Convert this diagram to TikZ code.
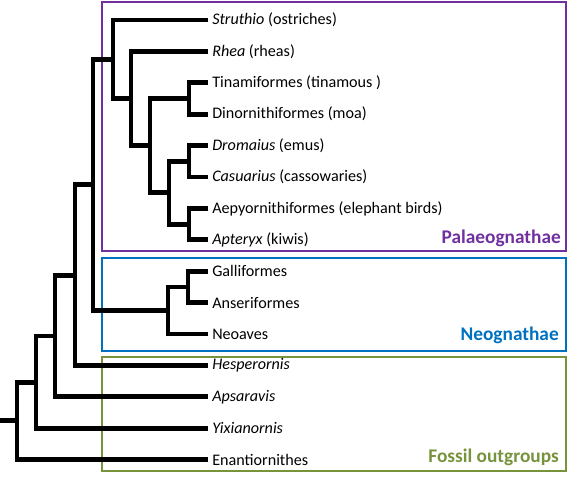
\documentclass[tikz,border=0pt]{standalone}
\usepackage{fontspec}
\setmainfont{Carlito}
\definecolor{palcol}{HTML}{7030A0}
\definecolor{neocol}{HTML}{0070C0}
\definecolor{fosscol}{HTML}{77933C}
\tikzset{x = 0.75pt, y = -0.75pt}
\tikzset{branch/.style = {line width = 3.6pt},
         leaf/.style   = {anchor = west, inner xsep = 3pt, inner ysep = 0pt,
                          font = \fontsize{12.1}{14}\selectfont},
         groupbox/.style = {line width = 1.5pt},
         grouplabel/.style = {anchor = east, inner sep = 0pt,
                              font = \fontsize{14.5}{17}\selectfont\bfseries}}

\begin{document}
\begin{tikzpicture}
  \useasboundingbox (0,0) rectangle (567,476);
  % boxes
  \draw[groupbox, palcol]  (102,2)   rectangle (565.5,251);
  \draw[groupbox, neocol]  (102,257.5) rectangle (565.5,350.5);
  \draw[groupbox, fosscol] (102,356.5) rectangle (565.5,470.5);
  \node[grouplabel, text = palcol]  (palaeo label) at (561,238) {Palaeognathae};
  \node[grouplabel, text = neocol]  (neo label)    at (559,335) {Neognathae};
  \node[grouplabel, text = fosscol] (fossil label) at (559,457) {Fossil outgroups};
  % leaves
  \node[leaf] (struthio) at (208,20)    {\textit{Struthio} (ostriches)};
  \node[leaf] (rhea)     at (208,51.4)  {\textit{Rhea} (rheas)};
  \node[leaf] (tina)     at (208,82.8)  {Tinamiformes (tinamous )};
  \node[leaf] (dino)     at (208,114.2) {Dinornithiformes (moa)};
  \node[leaf] (dromaius) at (208,145.6) {\textit{Dromaius} (emus)};
  \node[leaf] (casuar)   at (208,177)   {\textit{Casuarius} (cassowaries)};
  \node[leaf] (aepyorn)  at (208,208.4) {Aepyornithiformes (elephant birds)};
  \node[leaf] (apteryx)  at (208,239.8) {\textit{Apteryx} (kiwis)};
  \node[leaf] (galli)    at (208,271.2) {Galliformes};
  \node[leaf] (anser)    at (208,302.6) {Anseriformes};
  \node[leaf] (neoaves)  at (208,334)   {Neoaves};
  \node[leaf] (hesper)   at (208,365.4) {\textit{Hesperornis}};
  \node[leaf] (apsar)    at (208,396.8) {\textit{Apsaravis}};
  \node[leaf] (yixian)   at (208,428.2) {\textit{Yixianornis}};
  \node[leaf] (enantio)  at (208,459.6) {Enantiornithes};
  % internal nodes
  \coordinate (tinadino)   at (189,98.5);
  \coordinate (dromcas)    at (189,161.3);
  \coordinate (aepapt)     at (189,224.1);
  \coordinate (austral)    at (169,192.7);
  \coordinate (notopal)    at (150,145.6);
  \coordinate (rheaclade)  at (131,98.5);
  \coordinate (palaeo)     at (113,59.25);
  \coordinate (galloans)   at (188,286.9);
  \coordinate (neog)       at (168,310.45);
  \coordinate (neornith)   at (93,184.85);
  \coordinate (ornithur)   at (75,275.1);
  \coordinate (ornithuro)  at (55,336);
  \coordinate (ornithotho) at (36,382.1);
  \coordinate (root)       at (17,420.85);
  \coordinate (stem)       at (0,420.85);
  % branches
  \draw[branch] (tina.west)     -| (tinadino)   |- (dino.west);
  \draw[branch] (dromaius.west) -| (dromcas)    |- (casuar.west);
  \draw[branch] (aepyorn.west)  -| (aepapt)     |- (apteryx.west);
  \draw[branch] (dromcas)       -| (austral)    |- (aepapt);
  \draw[branch] (tinadino)      -| (notopal)    |- (austral);
  \draw[branch] (rhea.west)     -| (rheaclade)  |- (notopal);
  \draw[branch] (struthio.west) -| (palaeo)     |- (rheaclade);
  \draw[branch] (galli.west)    -| (galloans)   |- (anser.west);
  \draw[branch] (galloans)      -| (neog)       |- (neoaves.west);
  \draw[branch] (palaeo)        -| (neornith)   |- (neog);
  \draw[branch] (neornith)      -| (ornithur)   |- (hesper.west);
  \draw[branch] (ornithur)      -| (ornithuro)  |- (apsar.west);
  \draw[branch] (ornithuro)     -| (ornithotho) |- (yixian.west);
  \draw[branch] (ornithotho)    -| (root)       |- (enantio.west);
  \draw[branch] (stem) -- (root);
\end{tikzpicture}
\end{document}
